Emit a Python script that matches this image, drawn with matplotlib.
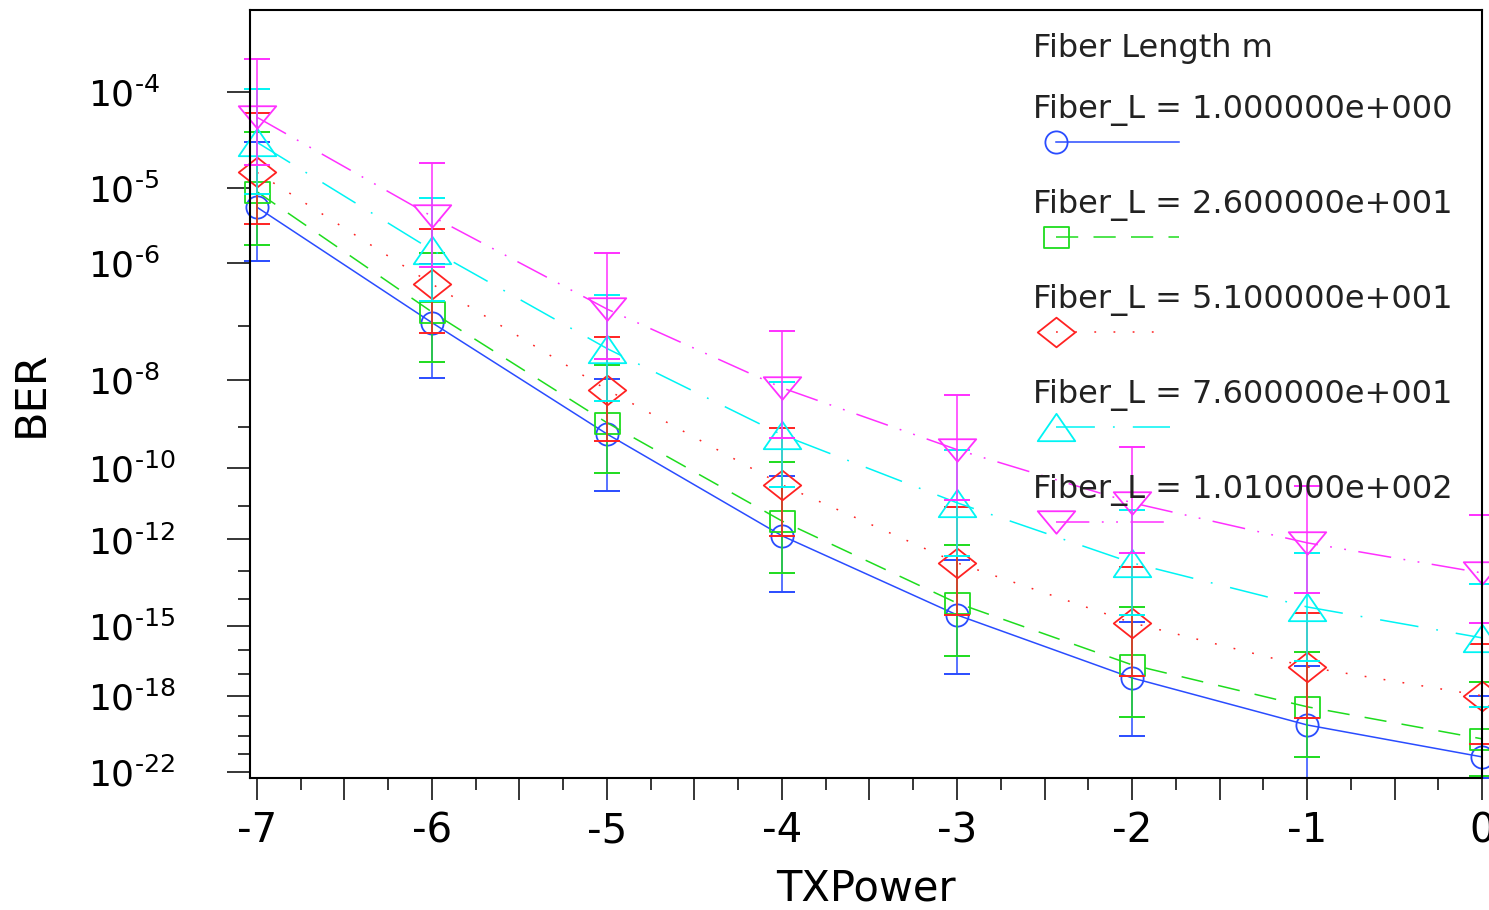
import numpy as np
import matplotlib
matplotlib.use("Agg")
import matplotlib.pyplot as plt
from matplotlib.path import Path
from matplotlib.ticker import FixedLocator, NullFormatter


tx_power = [-7, -6, -5, -4, -3, -2, -1, 0]

fiber_labels = [
    "Fiber_L = 1.000000e+000",
    "Fiber_L = 2.600000e+001",
    "Fiber_L = 5.100000e+001",
    "Fiber_L = 7.600000e+001",
    "Fiber_L = 1.010000e+002",
]

# BER per fiber length (centre, bottom of error bar, top of error bar)
ber_1 = [5.75e-6, 1.15e-7, 6.8e-10, 1.3e-12, 2.6e-15, 6.5e-18, 3.6e-20, 7.1e-22]
ber_1_low = [1.1e-6, 1.1e-8, 2.6e-11, 1.8e-14, 1.0e-17, 1.0e-20, 4.6e-23, 4.5e-23]
ber_1_high = [3.2e-5, 9.8e-7, 1.05e-8, 6.3e-11, 2.2e-13, 1.4e-15, 2.2e-17, 9.3e-19]

ber_26 = [8.9e-6, 1.74e-7, 1.23e-9, 3.6e-12, 7.2e-15, 2.45e-17, 2.9e-19, 6.8e-21]
ber_26_low = [1.8e-6, 2.2e-8, 7.6e-11, 8.3e-14, 5.9e-17, 9.1e-20, 7.1e-22, 5.6e-23]
ber_26_high = [4.1e-5, 1.4e-6, 1.95e-8, 1.4e-10, 6.8e-13, 5.2e-15, 8.7e-17, 4.3e-18]

ber_51 = [1.5e-5, 4.9e-7, 6.3e-9, 3.7e-11, 1.8e-13, 1.3e-15, 2.0e-17, 9.8e-19]
ber_51_low = [3.5e-6, 7.6e-8, 4.7e-10, 1.3e-12, 2.6e-15, 7.9e-18, 8.1e-20, 3.7e-21]
ber_51_high = [6.3e-5, 3.0e-6, 6.5e-8, 9.3e-10, 9.1e-12, 1.3e-13, 3.1e-15, 1.9e-16]

ber_76 = [3.2e-5, 1.55e-6, 4.0e-8, 6.5e-10, 1.2e-11, 1.8e-13, 5.2e-15, 3.3e-16]
ber_76_low = [8.3e-6, 2.6e-7, 3.7e-9, 3.2e-11, 3.0e-13, 2.6e-15, 3.6e-17, 2.9e-19]
ber_76_high = [1.07e-4, 7.4e-6, 3.3e-7, 9.1e-9, 2.9e-10, 7.6e-12, 3.8e-13, 3.5e-14]

ber_101 = [5.75e-5, 4.4e-6, 1.95e-7, 6.9e-9, 2.9e-10, 1.2e-11, 7.9e-13, 8.3e-14]
ber_101_low = [1.8e-5, 8.9e-7, 2.6e-8, 5.5e-10, 1.45e-11, 3.8e-13, 1.7e-14, 1.3e-15]
ber_101_high = [1.95e-4, 1.9e-5, 1.4e-6, 8.3e-8, 4.9e-9, 3.4e-10, 3.5e-11, 5.4e-12]

y_major = [1e-4, 1e-5, 1e-6, 1e-8, 1e-10, 1e-12, 1e-15, 1e-18, 1e-22]
y_minor = [1e-7, 1e-9, 1e-11, 1e-13, 1e-14, 1e-16, 1e-17, 1e-19, 1e-20, 1e-21]
y_exponents = ["4", "5", "6", "8", "10", "12", "15", "18", "22"]


def marker_path(points):
    """
    in: list of corner points
    out: closed Path usable as marker
    """
    return Path(points + [points[0]], closed=True)


def ber_forward(ber):
    n = -np.log10(np.clip(ber, 1e-300, 0.1))
    return -np.log(np.maximum(n - 0.625, 1e-9))


def ber_inverse(y):
    return 10.0 ** (-(np.exp(-y) + 0.625))


SQUARE = marker_path([(-1, -0.84), (1, -0.84), (1, 0.84), (-1, 0.84)])
DIAMOND = marker_path([(-1, 0), (0, 0.79), (1, 0), (0, -0.79)])
TRI_UP = marker_path([(-1, -0.73), (1, -0.73), (0, 0.73)])
TRI_DOWN = marker_path([(-1, 0.6), (1, 0.6), (0, -0.6)])

series = [
    (ber_1, ber_1_low, ber_1_high, "#2a4cff", "-", "o", 16, 0.7541),
    (ber_26, ber_26_low, ber_26_high, "#1edc1e", (0, (16, 11)), SQUARE, 18, 0.7541),
    (ber_51, ber_51_low, ber_51_high, "#ff2222", (0, (1.3, 12.5)), DIAMOND, 27, 0.7468),
    (ber_76, ber_76_low, ber_76_high, "#00f4f4", (0, (28, 13, 1.3, 13)), TRI_UP, 27, 0.7468),
    (ber_101, ber_101_low, ber_101_high, "#ff30ff", (0, (24, 9, 1.3, 9, 1.3, 9)), TRI_DOWN, 27, 0.7468),
]


def draw_chart():
    plt.rcParams["lines.scale_dashes"] = False
    plt.rcParams["font.family"] = "DejaVu Sans"

    fig = plt.figure(figsize=(14.89, 9.10), dpi=100)
    ax = fig.add_axes([250 / 1489, 132 / 910, 1232 / 1489, 768 / 910])
    ax.set_yscale("function", functions=(ber_forward, ber_inverse))

    for ber, low, high, color, style, marker, size, _ in series:
        ber = np.array(ber)
        yerr = [ber - np.array(low), np.array(high) - ber]
        bars = ax.errorbar(tx_power, ber, yerr=yerr, fmt="none", ecolor=color,
                           elinewidth=1.1, capsize=9.5, capthick=1.4)
        for part in bars.lines[1] + bars.lines[2]:
            part.set_clip_on(False)
        ax.plot(tx_power, ber, color=color, linestyle=style, linewidth=1.1,
                marker=marker, markersize=size, markerfacecolor="none",
                markeredgecolor=color, markeredgewidth=1.3, clip_on=False)

    # legend drawn by hand: label above its line sample
    ax.text(0.6356, 0.9392, "Fiber Length m", transform=ax.transAxes,
            fontsize=23, va="baseline", color="#222222")
    for i, (ber, low, high, color, style, marker, size, end) in enumerate(series):
        text_y = 0.8594 - i * 0.1237
        line_y = 0.8281 - i * 0.1237
        ax.text(0.6356, text_y, fiber_labels[i], transform=ax.transAxes,
                fontsize=23, va="baseline", color="#222222")
        ax.plot([0.6542, end], [line_y, line_y], transform=ax.transAxes,
                color=color, linestyle=style, linewidth=1.1, clip_on=False)
        ax.plot([0.6542], [line_y], transform=ax.transAxes, linestyle="none",
                marker=marker, markersize=size, markerfacecolor="none",
                markeredgecolor=color, markeredgewidth=1.3, clip_on=False)

    ax.set_xlim(-7.04, 0.0)
    ax.set_ylim(4.37e-23, 4.71e-4)

    x_major = np.arange(-7, 0.01, 0.5)
    x_labels = [str(int(v)) if v == int(v) else "" for v in x_major]
    ax.set_xticks(x_major, x_labels)
    ax.xaxis.set_minor_locator(FixedLocator(np.arange(-6.75, 0, 0.5)))

    ax.yaxis.set_major_locator(FixedLocator(y_major))
    ax.set_yticklabels(["$10^{\\text{-}%s}$" % e for e in y_exponents])
    ax.yaxis.set_minor_locator(FixedLocator(y_minor))
    ax.yaxis.set_minor_formatter(NullFormatter())

    ax.tick_params(axis="x", which="major", direction="out", length=16,
                   width=1.1, labelsize=29, pad=8)
    ax.tick_params(axis="x", which="minor", direction="out", length=8.5, width=1.1)
    ax.tick_params(axis="y", which="major", direction="out", length=16.5,
                   width=1.1, labelsize=26, pad=100)
    ax.tick_params(axis="y", which="minor", direction="out", length=8.5, width=1.1)
    for label in ax.get_yticklabels():
        label.set_horizontalalignment("left")

    for spine in ax.spines.values():
        spine.set_linewidth(1.5)
        spine.set_color("black")

    ax.set_ylabel("BER", fontsize=31)
    ax.yaxis.set_label_coords(-0.1607, 0.5)
    ax.set_xlabel("TXPower", fontsize=30)
    ax.xaxis.set_label_coords(0.5, -0.1165)

    fig.savefig("out.png", dpi=100)


if __name__ == "__main__":
    draw_chart()
